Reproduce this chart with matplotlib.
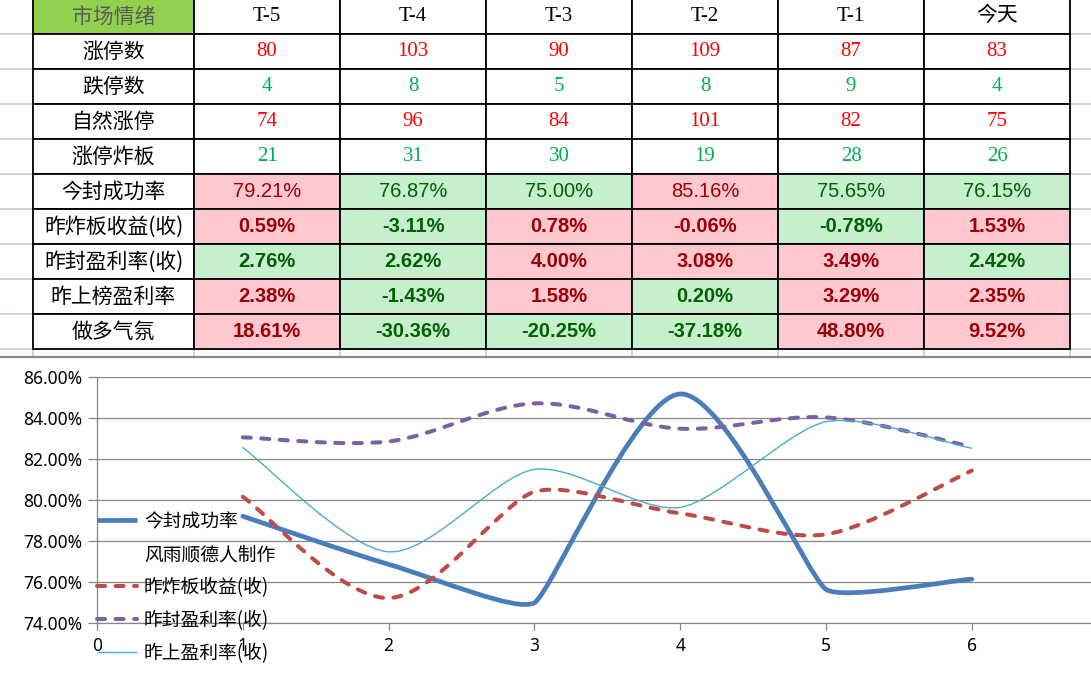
import numpy as np
import matplotlib
matplotlib.use("Agg")
import matplotlib.pyplot as plt
from matplotlib.path import Path
from matplotlib.patches import PathPatch
from matplotlib.lines import Line2D
from matplotlib.ticker import FuncFormatter

plt.rcParams['font.family'] = ['Noto Sans CJK SC', 'DejaVu Sans']

# ---- table data ----
corner_label = "市场情绪"
col_labels = ["T-5", "T-4", "T-3", "T-2", "T-1", "今天"]
count_rows = ["涨停数", "跌停数", "自然涨停", "涨停炸板"]
limit_up = [80, 103, 90, 109, 87, 83]
limit_down = [4, 8, 5, 8, 9, 4]
natural_up = [74, 96, 84, 101, 82, 75]
broken = [21, 31, 30, 19, 28, 26]
count_colors = ["#ff0000", "#00b050", "#ff0000", "#00b050"]

pct_rows = ["今封成功率", "昨炸板收益(收)", "昨封盈利率(收)", "昨上榜盈利率", "做多气氛"]
seal_rate = [79.21, 76.87, 75.00, 85.16, 75.65, 76.15]
broken_ret = [0.59, -3.11, 0.78, -0.06, -0.78, 1.53]
seal_ret = [2.76, 2.62, 4.00, 3.08, 3.49, 2.42]
board_ret = [2.38, -1.43, 1.58, 0.20, 3.29, 2.35]
bull_mood = [18.61, -30.36, -20.25, -37.18, 48.80, 9.52]
hot_threshold = [78, -0.5, 3, 1, 0]   # above -> red cell, else green cell

# ---- chart data ----
days = [1, 2, 3, 4, 5, 6]
curve_seal = seal_rate
curve_broken = [80.16, 75.23, 80.40, 79.35, 78.33, 81.43]
curve_sealret = [83.05, 82.85, 84.70, 83.47, 84.02, 82.59]
curve_board = [82.55, 77.48, 81.49, 79.64, 83.81, 82.52]
series_names = ["今封成功率", "风雨顺德人制作", "昨炸板收益(收)", "昨封盈利率(收)", "昨上盈利率(收)"]

W, H = 1091, 674
fig = plt.figure(figsize=(W / 100, H / 100), dpi=100)

# sheet background with excel gridlines
bg = fig.add_axes([0, 0, 1, 1])
bg.set_xlim(0, W)
bg.set_ylim(H, 0)
bg.axis('off')
col_w = [161] + [146] * 6
x_edges = 33 + np.concatenate([[0], np.cumsum(col_w)])
y_edges = -1 + 35 * np.arange(11)
bg.hlines(y_edges, 0, W, color='#c6cee0', lw=1.3, zorder=0)
bg.vlines(x_edges, 0, 357, color='#c6cee0', lw=1.3, zorder=0)
bg.hlines(357, 0, W, color='#8a8a8a', lw=1.6, zorder=1)

# ---- table ----
cell_text = [[corner_label] + col_labels]
for name, vals in zip(count_rows, [limit_up, limit_down, natural_up, broken]):
    cell_text.append([name] + [str(v) for v in vals])
pct_data = [seal_rate, broken_ret, seal_ret, board_ret, bull_mood]
for name, vals in zip(pct_rows, pct_data):
    cell_text.append([name] + [f"{v:.2f}%" for v in vals])

tbl = bg.table(cellText=cell_text, colWidths=[w / sum(col_w) for w in col_w],
               cellLoc='center',
               bbox=[33 / W, 1 - 349 / H, sum(col_w) / W, 350 / H])
tbl.auto_set_font_size(False)
for (r, c), cell in tbl.get_celld().items():
    cell.set_edgecolor('black')
    cell.set_linewidth(1.3)
    txt = cell.get_text()
    txt.set_fontsize(15)
    if r == 0:
        if c == 0:
            cell.set_facecolor('#92d050')
            txt.set_color('#5a5a5a')
        else:
            txt.set_fontfamily(['Liberation Serif', 'Noto Sans CJK SC'])
            txt.set_color('black')
    elif c == 0:
        txt.set_color('black')
    elif r <= 4:
        txt.set_fontfamily(['Liberation Serif'])
        txt.set_color(count_colors[r - 1])
    else:
        k = r - 5
        hot = pct_data[k][c - 1] > hot_threshold[k]
        cell.set_facecolor('#ffc7ce' if hot else '#c6efce')
        txt.set_color('#9c0006' if hot else '#006100')
        txt.set_fontfamily(['Liberation Sans'])
        txt.set_fontsize(14.5)
        txt.set_fontweight('normal' if k == 0 else 'bold')

# ---- chart ----
ax = fig.add_axes([97 / W, 1 - 623.3 / H, (W - 97) / W, 246.6 / H])
ax.patch.set_alpha(0)
ax.set_xlim(0, (W - 97) / 145.8)
ax.set_ylim(74, 86)
ax.set_yticks(np.arange(74, 87, 2))
ax.set_xticks(range(0, 7))
ax.yaxis.set_major_formatter(FuncFormatter(lambda v, p: f"{v:.2f}%"))
ax.grid(axis='y', color='#868686', lw=0.9)
ax.set_axisbelow(True)
for s in ['top', 'right']:
    ax.spines[s].set_visible(False)
for s in ['left', 'bottom']:
    ax.spines[s].set_color('#868686')
    ax.spines[s].set_linewidth(0.9)
ax.tick_params(axis='y', length=6.5, width=0.9, color='#868686', pad=4, labelsize=12.5)
ax.tick_params(axis='x', length=5, width=0.9, color='#868686', pad=5, labelsize=12.5)
for lab in ax.get_xticklabels() + ax.get_yticklabels():
    lab.set_fontfamily(['Noto Sans'])


def smooth_path(xs, ys, power=2):
    # excel-like smoothed line: catmull-rom bezier arms, shortened where
    # the neighbouring segments differ much in (screen) length
    pts = np.column_stack([xs, ys]).astype(float)
    disp = ax.transData.transform(pts)
    n = len(pts)
    d = np.hypot(*np.diff(disp, axis=0).T)
    arms = []
    for i in range(n):
        a, b = max(i - 1, 0), min(i + 1, n - 1)
        r = 1.0
        if 0 < i < n - 1:
            r = (min(d[i - 1], d[i]) / max(d[i - 1], d[i])) ** power
        arms.append((pts[b] - pts[a]) / 6 * r)
    verts = [pts[0]]
    codes = [Path.MOVETO]
    for i in range(n - 1):
        verts += [pts[i] + arms[i], pts[i + 1] - arms[i + 1], pts[i + 1]]
        codes += [Path.CURVE4] * 3
    return Path(verts, codes)


styles = [
    dict(color='#4a7ebb', lw=3.4, ls='-'),
    None,
    dict(color='#be4b48', lw=2.9, ls=(0, (2.0, 2.6))),
    dict(color='#7d60a0', lw=2.9, ls=(0, (2.0, 2.6))),
    dict(color='#4bacc6', lw=1.0, ls='-'),
]
curves = [curve_seal, None, curve_broken, curve_sealret, curve_board]
handles = []
for z, (name, vals, st) in enumerate(zip(series_names, curves, styles)):
    if vals is None:
        h, = ax.plot([], [], ls='none', label=name)
        handles.append(h)
        continue
    patch = PathPatch(smooth_path(days, vals), fill=False, edgecolor=st['color'],
                      lw=st['lw'], linestyle=st['ls'], capstyle='round',
                      joinstyle='round', zorder=3 + z)
    ax.add_patch(patch)
    h = Line2D([], [], color=st['color'], lw=st['lw'], ls=st['ls'],
               dash_capstyle='round', solid_capstyle='butt')
    handles.append(h)

ax.legend(handles, series_names, loc='upper left',
          bbox_to_anchor=(97 / W, 1 - 511 / H), bbox_transform=fig.transFigure,
          frameon=False, fontsize=13.5, handlelength=2.15, handletextpad=0.35,
          labelspacing=0.64, borderpad=0, borderaxespad=0)

fig.savefig("out.png", dpi=100)
